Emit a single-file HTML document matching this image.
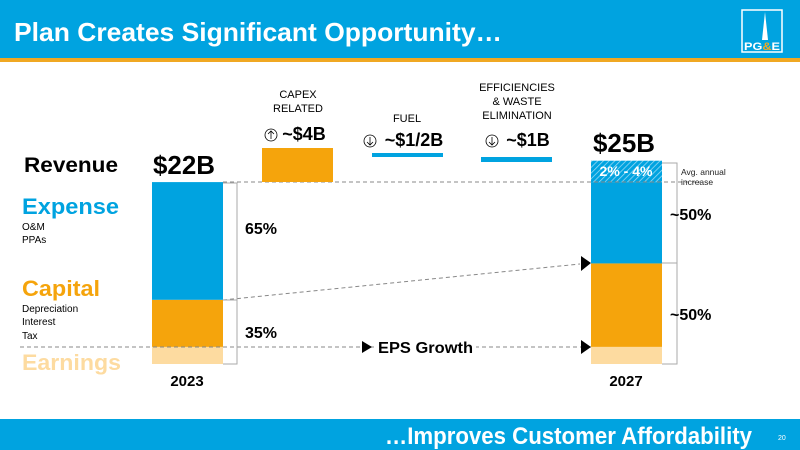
<!DOCTYPE html>
<html><head><meta charset="utf-8"><style>
body{margin:0;width:800px;height:450px;overflow:hidden;background:#fff;font-family:"Liberation Sans",Arial,sans-serif;}
svg{display:block}
</style></head><body>
<svg width="800" height="450" xmlns="http://www.w3.org/2000/svg" font-family="Liberation Sans, Arial, sans-serif">
<defs>
<pattern id="hatch" width="4" height="4" patternUnits="userSpaceOnUse" patternTransform="rotate(45)">
<rect width="4" height="4" fill="#00a3e0"/><line x1="0" y1="0" x2="0" y2="4" stroke="#9fdcf5" stroke-width="1.5"/></pattern>
</defs>
<rect x="0" y="0" width="800" height="58" fill="#00a3e0"/>
<rect x="0" y="58" width="800" height="4" fill="#f0a823"/>
<text x="14" y="41" font-size="26" font-weight="bold" fill="#fff" textLength="488" lengthAdjust="spacingAndGlyphs">Plan Creates Significant Opportunity…</text>
<g>
<rect x="742" y="10" width="40" height="42" fill="none" stroke="#fff" stroke-width="1.5"/>
<polygon points="765,12 768,40 762,40" fill="#fff"/>
<text x="744" y="50" font-size="11" font-weight="bold" fill="#fff" textLength="36" lengthAdjust="spacingAndGlyphs">PG<tspan fill="#f0a823">&amp;</tspan>E</text>
</g>
<rect x="0" y="419" width="800" height="31" fill="#00a3e0"/>
<text x="385" y="444" font-size="24" font-weight="bold" fill="#fff" textLength="367" lengthAdjust="spacingAndGlyphs">…Improves Customer Affordability</text>
<text x="778" y="440" font-size="7" fill="#fff">20</text>

<g>
<text x="24" y="172" font-size="21" font-weight="bold" fill="#000" textLength="94" lengthAdjust="spacingAndGlyphs">Revenue</text>
<text x="22" y="214" font-size="22" font-weight="bold" fill="#00a3e0" textLength="97" lengthAdjust="spacingAndGlyphs">Expense</text>
<text x="22" y="230" font-size="10" fill="#000">O&amp;M</text>
<text x="22" y="243" font-size="10" fill="#000">PPAs</text>
<text x="22" y="296" font-size="22" font-weight="bold" fill="#f5a40c" textLength="78" lengthAdjust="spacingAndGlyphs">Capital</text>
<text x="22" y="312" font-size="10" fill="#000">Depreciation</text>
<text x="22" y="325" font-size="10" fill="#000">Interest</text>
<text x="22" y="339" font-size="10" fill="#000">Tax</text>
<text x="22" y="370" font-size="22" font-weight="bold" fill="#fddba0" textLength="99" lengthAdjust="spacingAndGlyphs">Earnings</text>
</g>

<g id="bars"></g>

<g stroke="#888" stroke-dasharray="4,3" fill="none" stroke-width="1">
<line x1="223" y1="182" x2="700" y2="182"/>
<line x1="223" y1="300" x2="580" y2="264"/>
<line x1="20" y1="347" x2="591" y2="347"/>
</g>
<g fill="#000">
<polygon points="581,256 591,263 581,271"/>
<polygon points="362,341 372,347 362,353"/>
<polygon points="581,340 591,347 581,354"/>
</g>
<rect x="376" y="337" width="100" height="20" fill="#fff"/>
<text x="378" y="353" font-size="16" font-weight="bold" textLength="95" lengthAdjust="spacingAndGlyphs">EPS Growth</text>

<g stroke="#aaa" fill="none">
<polyline points="223,183 237,183 237,364 223,364"/>
<line x1="223" y1="300" x2="237" y2="300"/>
<polyline points="662,163 677,163 677,364 662,364"/>
<line x1="662" y1="263" x2="677" y2="263"/>
</g>
<text x="245" y="234" font-size="16" font-weight="bold">65%</text>
<text x="245" y="338" font-size="16" font-weight="bold">35%</text>
<text x="670" y="220" font-size="16" font-weight="bold">~50%</text>
<text x="670" y="320" font-size="16" font-weight="bold">~50%</text>
<text x="681" y="175" font-size="8.5" fill="#222">Avg. annual</text>
<text x="681" y="185" font-size="8.5" fill="#222">increase</text>
<text x="626" y="176" font-size="14" font-weight="bold" fill="#fff" text-anchor="middle">2% - 4%</text>

<text x="153" y="174" font-size="26" font-weight="bold" textLength="62" lengthAdjust="spacingAndGlyphs">$22B</text>
<text x="593" y="152" font-size="26" font-weight="bold" textLength="62" lengthAdjust="spacingAndGlyphs">$25B</text>
<text x="187" y="386" font-size="15" font-weight="bold" text-anchor="middle">2023</text>
<text x="626" y="386" font-size="15" font-weight="bold" text-anchor="middle">2027</text>

<g text-anchor="middle">
<text x="298" y="98" font-size="11">CAPEX</text>
<text x="298" y="112" font-size="11">RELATED</text>
<circle cx="271" cy="135" r="6" fill="none" stroke="#000" stroke-width="0.8"/><path d="M271,139V131M268,134L271,131L274,134" stroke="#000" stroke-width="0.8" fill="none"/>
<text x="304" y="140" font-size="18" font-weight="bold">~$4B</text>
<rect x="262" y="148" width="71" height="34" fill="#f5a40c"/>
</g>
<g text-anchor="middle">
<text x="407" y="122" font-size="11">FUEL</text>
<circle cx="370" cy="141" r="6" fill="none" stroke="#000" stroke-width="0.8"/><path d="M370,137V145M367,142L370,145L373,142" stroke="#000" stroke-width="0.8" fill="none"/>
<text x="414" y="146" font-size="18" font-weight="bold">~$1/2B</text>
<rect x="372" y="153" width="71" height="4" fill="#00a3e0"/>
</g>
<g text-anchor="middle">
<text x="517" y="91" font-size="11">EFFICIENCIES</text>
<text x="517" y="105" font-size="11">&amp; WASTE</text>
<text x="517" y="119" font-size="11">ELIMINATION</text>
<circle cx="492" cy="141" r="6" fill="none" stroke="#000" stroke-width="0.8"/><path d="M492,137V145M489,142L492,145L495,142" stroke="#000" stroke-width="0.8" fill="none"/>
<text x="528" y="146" font-size="18" font-weight="bold">~$1B</text>
<rect x="481" y="157" width="71" height="5" fill="#00a3e0"/>
</g>
</svg>
<script>
// stacked values in $B (bottom to top): earnings, capital, expense, growth
const years = ["2023", "2027"];
const earnings = [1.6, 1.6];
const capital = [4.4, 7.8];
const expense = [11.0, 7.6];
const growth = [0, 2.0];
const colors = ["#fddba0", "#f5a40c", "#00a3e0", "url(#hatch)"];
const names = ["earnings", "capital", "expense", "growth"];
const baseY = 364, pxPer = 10.7, barW = 71, xs = [152, 591];
function yScale(v){ return baseY - v * pxPer; }
const g = document.getElementById('bars');
const series = [earnings, capital, expense, growth];
years.forEach((yr, i) => {
  let acc = 0;
  series.forEach((s, k) => {
    const v = s[i];
    if (v <= 0) return;
    const r = document.createElementNS('http://www.w3.org/2000/svg', 'rect');
    r.setAttribute('x', xs[i]);
    r.setAttribute('y', yScale(acc + v));
    r.setAttribute('width', barW);
    r.setAttribute('height', v * pxPer);
    r.setAttribute('fill', colors[k]);
    
    
    g.appendChild(r);
    acc += v;
  });
});
</script>
</body></html>
